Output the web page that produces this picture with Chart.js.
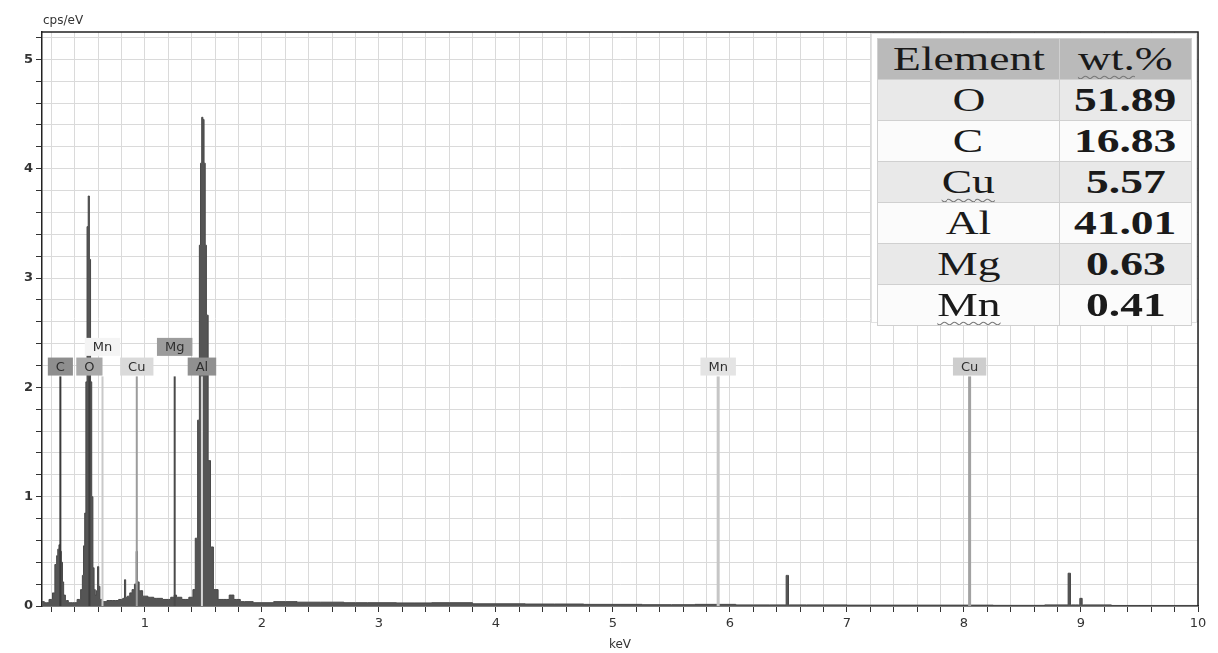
<!DOCTYPE html>
<html>
<head>
<meta charset="utf-8">
<script src="https://cdn.jsdelivr.net/npm/chart.js@4.4.1/dist/chart.umd.min.js"></script>
<style>
  body { margin: 0; background: #fff; }
  #wrap { position: relative; width: 1218px; height: 653px; }
  #tableBox {
    position: absolute; left: 871px; top: 33px; width: 326px; height: 290px;
    background: #fff; border: 1px solid #e2e2e2; box-sizing: border-box;
  }
  #wt {
    position: absolute; left: 5px; top: 4px; width: 315px; table-layout: fixed;
    border-collapse: collapse; font-family: "Liberation Serif", serif; font-size: 33px; color: #1a1a1a;
  }
  #wt td { height: 40px; padding: 0; text-align: center; border: 1px solid #d0d0d0; line-height: 38px; overflow: hidden; }
  #wt td:first-child { width: 181px; }
  #wt td span.t { display: inline-block; transform: scaleX(1.38); }
  #wt td.val { font-weight: bold; }
  #wt tr.head td { background: #bababa; }
  #wt tr.odd td { background: #e9e9e9; }
  #wt tr.even td { background: #fbfbfb; }
  .sq { text-decoration: underline wavy #777; text-decoration-thickness: 1px; text-underline-offset: 5px; }
</style>
</head>
<body>
<div id="wrap">
  <canvas id="eds"></canvas>
  <div id="tableBox"><table id="wt"></table></div>
</div>
<script>
// ================= DATA =================
const energies = [0.12, 0.16, 0.20, 0.22, 0.24, 0.25, 0.26, 0.27, 0.28, 0.29, 0.30, 0.31, 0.33, 0.36, 0.40,
  0.44, 0.46, 0.47, 0.48, 0.49, 0.50, 0.51, 0.52, 0.53, 0.54, 0.55, 0.56, 0.57, 0.58, 0.59, 0.60, 0.61, 0.62,
  0.65, 0.70, 0.75, 0.80, 0.82, 0.83, 0.84, 0.86, 0.88, 0.90, 0.92, 0.93, 0.94, 0.96, 1.00, 1.05, 1.10, 1.20,
  1.24, 1.26, 1.28, 1.35, 1.40, 1.42, 1.44, 1.46, 1.47, 1.48, 1.49, 1.50, 1.51, 1.52, 1.53, 1.55, 1.57, 1.60,
  1.65, 1.70, 1.74, 1.78, 1.85, 2.0, 2.2, 2.4, 2.6, 2.8, 3.0, 3.3, 3.6, 4.0, 4.5, 5.0, 5.5, 5.9, 6.2, 6.47,
  6.49, 6.51, 6.8, 7.2, 7.6, 8.0, 8.5, 8.88, 8.90, 8.92, 8.98, 9.0, 9.02, 9.5, 10.0];
const counts = [0.04, 0.03, 0.06, 0.12, 0.38, 0.46, 0.52, 0.56, 0.50, 0.40, 0.22, 0.10, 0.05, 0.03, 0.03,
  0.06, 0.15, 0.28, 0.55, 0.85, 2.05, 3.47, 3.75, 3.17, 2.05, 1.0, 0.35, 0.15, 0.10, 0.14, 0.36, 0.18, 0.06,
  0.04, 0.05, 0.05, 0.06, 0.07, 0.24, 0.08, 0.09, 0.12, 0.15, 0.20, 0.50, 0.22, 0.14, 0.09, 0.08, 0.07, 0.06,
  0.08, 0.10, 0.08, 0.06, 0.08, 0.15, 0.62, 1.7, 3.3, 4.05, 4.47, 4.45, 4.05, 3.3, 2.66, 1.33, 0.54, 0.15,
  0.06, 0.06, 0.10, 0.06, 0.04, 0.03, 0.04, 0.035, 0.035, 0.03, 0.03, 0.028, 0.03, 0.02, 0.018, 0.015, 0.012, 0.015, 0.01, 0.01,
  0.28, 0.01, 0.01, 0.008, 0.008, 0.008, 0.006, 0.01, 0.30, 0.01, 0.01, 0.07, 0.01, 0.005, 0.005];

// element marker lines (keV)
const markerNames = ["C", "O", "Mn", "Cu", "Mg", "Al", "Mn", "Cu"];
const markerEnergies = [0.277, 0.525, 0.637, 0.930, 1.254, 1.487, 5.899, 8.048];

// inset table
const tableElements = ["O", "C", "Cu", "Al", "Mg", "Mn"];
const tableWt = ["51.89", "16.83", "5.57", "41.01", "0.63", "0.41"];

// y / x tick labels (only integers are labelled)
const yTickLabels = [0, 1, 2, 3, 4, 5];
const xTickLabels = [1, 2, 3, 4, 5, 6, 7, 8, 9, 10];

// ================= STYLES =================
const markerLine = ["#3a3a3a", "#3e3e3e", "#c9c9c9", "#9c9c9c", "#4a4a4a", "#d6d6d6", "#c6c6c6", "#a2a2a2"];
const markerBox = ["#8e8e8e", "#a9a9a9", "#f4f4f4", "#dadada", "#9c9c9c", "#909090", "#e4e4e4", "#cdcdcd"];
const markerRaised = [false, false, true, false, true, false, false, false];
const MARKER_TOP = 2.1, LABEL_Y = 2.19, LABEL_Y_RAISED = 2.37;

// ================= TABLE =================
const squiggly = ["Cu", "Mn"];
let html = `<tr class="head"><td><span class="t">Element</span></td><td><span class="t"><span class="sq">wt.</span>%</span></td></tr>`;
tableElements.forEach((el, i) => {
  const name = squiggly.includes(el) ? `<span class="sq">${el}</span>` : el;
  html += `<tr class="${i % 2 === 0 ? "odd" : "even"}"><td><span class="t">${name}</span></td><td class="val"><span class="t">${tableWt[i]}</span></td></tr>`;
});
document.getElementById("wt").innerHTML = html;

// ================= CHART =================
const isInt = v => Math.abs(v - Math.round(v)) < 1e-6;

const markerDatasets = markerEnergies.map((e, i) => ({
  type: "line",
  label: markerNames[i],
  data: [{ x: e, y: 0 }, { x: e, y: MARKER_TOP }],
  borderColor: markerLine[i],
  borderWidth: i >= 6 ? 3 : 2,
  pointRadius: 0,
  fill: false,
  order: 0
}));

const frameAndLabels = {
  id: "frameAndLabels",
  afterDatasetsDraw(chart) {
    const { ctx, chartArea: a, scales } = chart;
    ctx.save();
    // top and right frame
    ctx.strokeStyle = "#222";
    ctx.lineWidth = 1.5;
    ctx.beginPath();
    ctx.moveTo(a.left, a.top);
    ctx.lineTo(a.right, a.top);
    ctx.lineTo(a.right, a.bottom);
    ctx.stroke();
    // element labels
    ctx.font = "13px 'DejaVu Sans'";
    ctx.textAlign = "center";
    ctx.textBaseline = "middle";
    markerEnergies.forEach((e, i) => {
      const x = scales.x.getPixelForValue(e);
      const y = scales.y.getPixelForValue(markerRaised[i] ? LABEL_Y_RAISED : LABEL_Y);
      const w = ctx.measureText(markerNames[i]).width + 16;
      ctx.fillStyle = markerBox[i];
      ctx.fillRect(x - w / 2, y - 9, w, 18);
      ctx.fillStyle = "#2e2e2e";
      ctx.fillText(markerNames[i], x, y + 1);
    });
    // unit label
    ctx.textAlign = "left";
    ctx.font = "12px 'DejaVu Sans'";
    ctx.fillStyle = "#333";
    ctx.fillText("cps/eV", a.left + 1, a.top - 11);
    ctx.restore();
  }
};

new Chart(document.getElementById("eds"), {
  type: "line",
  data: {
    datasets: [
      {
        label: "spectrum",
        data: energies.map((e, i) => ({ x: e, y: counts[i] })),
        borderColor: "#484848",
        backgroundColor: "#555555",
        borderWidth: 1,
        pointRadius: 0,
        stepped: "middle",
        fill: "origin",
        order: 10
      },
      ...markerDatasets
    ]
  },
  options: {
    responsive: true,
    maintainAspectRatio: false,
    animation: false,
    layout: { padding: { top: 32, right: 20, left: 0, bottom: 0 } },
    plugins: { legend: { display: false }, tooltip: { enabled: false } },
    scales: {
      x: {
        type: "linear",
        min: 0.12,
        max: 10,
        afterFit: s => { s.height = 47; },
        border: { color: "#222", width: 1.5 },
        grid: { color: "#dadada", tickColor: "#333", tickLength: 6 },
        ticks: {
          stepSize: 0.2,
          includeBounds: false,
          autoSkip: false,
          maxRotation: 0,
          padding: 4,
          color: "#333",
          font: { family: "DejaVu Sans", size: 13 },
          callback: v => (isInt(v) && xTickLabels.includes(Math.round(v)) ? String(Math.round(v)) : "")
        },
        title: { display: true, text: "keV", color: "#333", font: { family: "DejaVu Sans", size: 12 }, padding: { top: 0, bottom: 1 } }
      },
      y: {
        min: 0,
        max: 5.25,
        afterFit: s => { s.width = 42; },
        border: { color: "#222", width: 1.5 },
        grid: { color: "#dadada", tickColor: "#333", tickLength: 6 },
        ticks: {
          stepSize: 0.2,
          includeBounds: false,
          autoSkip: false,
          padding: 3,
          color: "#333",
          font: { family: "DejaVu Sans", size: 13, weight: "bold" },
          callback: v => (isInt(v) && yTickLabels.includes(Math.round(v)) ? String(Math.round(v)) : "")
        }
      }
    }
  },
  plugins: [frameAndLabels]
});
</script>
</body>
</html>
